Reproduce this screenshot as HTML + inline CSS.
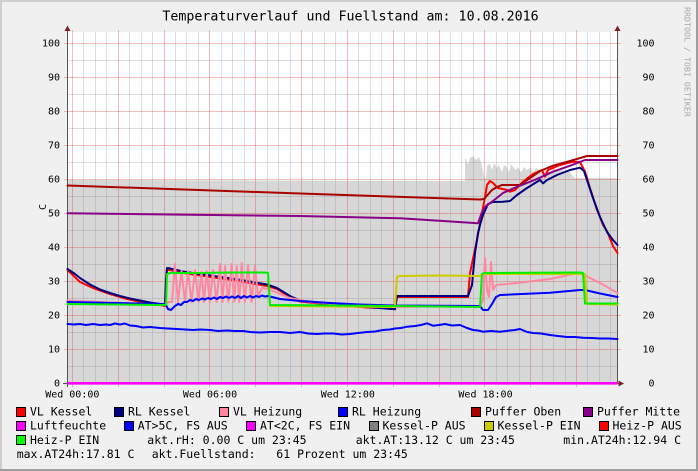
<!DOCTYPE html>
<html><head><meta charset="utf-8"><style>
html,body{margin:0;padding:0;background:#F0F0F0;}
svg{display:block;}
text{font-family:"DejaVu Sans Mono","Liberation Mono",monospace;}
</style></head><body>
<svg width="698" height="471" viewBox="0 0 698 471" xmlns="http://www.w3.org/2000/svg">
<rect x="0" y="0" width="698" height="471" fill="#F0F0F0"/>
<!-- frame -->
<rect x="0" y="0" width="698" height="2" fill="#CFCFCF"/>
<rect x="0" y="0" width="2" height="471" fill="#CFCFCF"/>
<rect x="0" y="469" width="698" height="2" fill="#9E9E9E"/>
<rect x="696" y="0" width="2" height="471" fill="#9E9E9E"/>

<!-- title -->
<text x="350.5" y="20.5" font-size="13.3" text-anchor="middle" fill="#000">Temperaturverlauf und Fuellstand am: 10.08.2016</text>
<text transform="translate(684.5,7) rotate(90)" font-size="8.3" fill="#A8A8A8">RRDTOOL / TOBI OETIKER</text>
<text transform="translate(46,207) rotate(-90)" font-size="10" text-anchor="middle" fill="#000">C</text>

<!-- canvas -->
<rect x="67.5" y="32" width="550" height="351" fill="#FFFFFF"/>

<!-- Fuellstand area -->
<path fill="#D7D7D7" d="M67.5,383 L67.5,180 L465,181 L465,157 L468,165 L470,158 L473,156 L476,160 L479,157 L481,163 L483,170 L484,178 L486,178 L487,166 L490,164 L492,170 L494,163 L497,168 L499,165 L502,172 L504,165 L507,167 L509,172 L511,164 L514,168 L516,170 L518,167 L521,172 L524,167 L527,170 L530,168 L533,172 L536,168 L540,170 L543,173 L546,168 L550,172 L554,168 L558,171 L562,170 L566,172 L569,171 L572,175 L575,178 L578,178 L617.5,178 L617.5,383 Z"/>

<!-- minor grid -->
<g stroke="#8F8F8F" stroke-opacity="0.3" stroke-width="1" fill="none">
<path d="M67.5,366.5H617.5 M67.5,332.5H617.5 M67.5,298.5H617.5 M67.5,264.5H617.5 M67.5,230.5H617.5 M67.5,196.5H617.5 M67.5,162.5H617.5 M67.5,128.5H617.5 M67.5,94.5H617.5 M67.5,60.5H617.5"/>
<path d="M83.5,32V383 M95.5,32V383 M106.5,32V383 M129.5,32V383 M141.5,32V383 M152.5,32V383 M175.5,32V383 M186.5,32V383 M198.5,32V383 M221.5,32V383 M232.5,32V383 M244.5,32V383 M267.5,32V383 M278.5,32V383 M290.5,32V383 M312.5,32V383 M324.5,32V383 M335.5,32V383 M358.5,32V383 M370.5,32V383 M381.5,32V383 M404.5,32V383 M416.5,32V383 M427.5,32V383 M450.5,32V383 M461.5,32V383 M473.5,32V383 M496.5,32V383 M507.5,32V383 M519.5,32V383 M542.5,32V383 M553.5,32V383 M565.5,32V383 M587.5,32V383 M599.5,32V383 M610.5,32V383"/>
</g>
<!-- major grid -->
<g stroke="#DE4F4F" stroke-opacity="0.38" stroke-width="1" fill="none">
<path d="M64,349.5H621 M64,315.5H621 M64,281.5H621 M64,247.5H621 M64,213.5H621 M64,179.5H621 M64,145.5H621 M64,111.5H621 M64,77.5H621 M64,43.5H621"/>
<path d="M72.5,30V387 M118.5,30V387 M164.5,30V387 M209.5,30V387 M255.5,30V387 M301.5,30V387 M347.5,30V387 M393.5,30V387 M439.5,30V387 M484.5,30V387 M530.5,30V387 M576.5,30V387"/>
</g>

<!-- axes -->
<g stroke="#555" stroke-width="1" fill="none">
<path d="M67.5,28V387 M617.5,28V383.5 M64,383.5H621"/>
<path d="M63,383.5H67.5"/>
</g>
<g fill="#801F1F">
<path d="M64.5,31 L67.5,25.5 L70.5,31 Z"/>
<path d="M614.5,31 L617.5,25.5 L620.5,31 Z"/>
<path d="M618.5,380.5 L624,383.5 L618.5,386.5 Z"/>
</g>

<!-- data lines -->
<g fill="none" stroke-width="2" stroke-linejoin="round" stroke-linecap="round">
<!-- VL Kessel -->
<polyline stroke="#FF0000" points="67.5,270 80,282 93,288 110,294 127,299 143,302.5 160,305 165,306 166,285 167,270 170,270 183,273 200,275.5 217,278 235,280.5 250,283 267,286 277,289 290,297 300,301.5 333,305 367,307.5 395,308.5 397,297 468,297 470,273 477,240 482,213 485,197 487,185 490,181 493,183 498,188 507,190 510,191.7 515,190 523,181.7 533,174 542,170 545,176.7 548,170 560,165 573,161.7 580,162 585,171.7 590,188 597,210 600,217 603,225 607,231 613,246 617.5,253"/>
<!-- RL Kessel -->
<polyline stroke="#000080" points="67.5,269 75,274 80,278 90,284.5 100,289.5 110,293 120,296 130,298.5 140,300.5 150,302.5 160,304 165,305 166,280 167,268 170,268.5 183,271.5 200,274 217,276.5 235,279 250,281.5 267,284.5 277,288 290,296 300,300.5 333,304 367,307 395,309.3 397,296 468,296 472,285 475,253 478,233 480,225 483,215 488,204 493,202 503,201.7 510,201 517,195 527,188 540,180 543,183.3 547,180 557,175 570,170 580,167.7 584,171 588,183 593,198 600,217 607,232 613,240 617.5,245"/>
<!-- VL Heizung -->
<polyline stroke="#FF88A0" points="67.5,300.5 100,302 165,305 166,303 169,302 172,302 175,264 178,302 181.5,271 185,302 188,271 191.5,302 195,270 198.5,302 201.5,272 204,302 206.7,271 209.8,302 213,270 216.5,302 220,264 222.5,302 225,266 228.3,302 231.7,264 234.2,302 236.7,266 239.2,302 241.7,263 244.8,302 248,265 251.5,302 255,266 258,296 262,288 268,289 275,292 290,298 310,302 350,305 395,307 480,306 483,300 485,258 487,290 489,297 491,262 493,290 496,285 517,283 550,279 577,273.3 582,274 590,278 600,283 617.5,293"/>
<!-- RL Heizung -->
<polyline stroke="#0000FF" points="67.5,302 165,304 166,305 168,309 171,310 175,306 178,304 181,305 184,302 187,302 190,300 193,301 196,299 199,300 202,298.5 205,299.5 208,298 211,299 214,297.5 217,299 220,297 223,298 226,296.5 229,298 232,296.5 235,298 238,296 241,298 244,296 247,297.5 250,296 253,297.5 256,296 259,297 262,295.5 265,296.5 268,296 280,299 300,301 330,303 360,304.5 395,305.5 480,306 483,310 488,310 492,304 496,297 500,295 550,292.7 580,290 585,290 600,293.5 617.5,297"/>
<!-- Puffer Oben -->
<polyline stroke="#AA0000" points="67.5,185.5 300,193.5 480,199.5 484,199 488,194.5 492,190 498,186.5 502,185 520,185 530,178 540,171 553,165.7 570,161 587,156 617.5,156"/>
<!-- Puffer Mitte -->
<polyline stroke="#880088" points="67.5,213.3 300,216 400,218.3 478,223.3 482,212 486,206 493,201 503,193 513,188.5 527,183 540,177.7 553,171.7 570,165.7 585,160 617.5,160"/>
<!-- AT -->
<polyline stroke="#0000FF" points="67.5,324 74,324.5 80,324 86,325 93,324 100,325 106,324.5 110,325 115,323.5 120,324.5 125,323.5 130,325.5 136,326 143,327.5 150,327 160,328 168,328.5 177,329 185,329.5 193,330 200,329.5 210,330 218,331 227,330.5 235,331 243,331 250,332 260,332.5 270,332 280,332 290,333 300,332 308,333.5 317,334 325,333.5 333,333.5 342,334.5 350,334 358,333 367,332 375,331.5 383,330 390,329.5 395,328.5 401,328 407,326.7 415,326 421,325 427,323.3 433,325.7 439,325 445,324 452,325.5 460,325 467,328 473,330 478,330.5 483,331.7 491,331 500,331.7 510,330.5 515,330 520,329 527,332 533,333 541,333.5 550,335 558,336 567,337 575,337 583,337.7 592,338 600,338.5 608,338.5 617.5,339"/>
<!-- Kessel-P EIN -->
<polyline stroke="#CCCC00" points="270,306 395,307 397,277 399,276 440,275.5 480,276 483,274 585,274 587,304 617.5,304.5"/>
<!-- Heiz-P EIN -->
<polyline stroke="#00EE00" points="67.5,304 166,305 167,274 170,273 200,273 230,272.5 265,272.5 268,273 270,305 395,306 480,307 482,274 484,273 580,272.5 583,273 585,303.5 617.5,303.5"/>
</g>
<!-- Luftfeuchte / AT<2C at zero -->
<path d="M67.5,383.3H617.5" stroke="#FF00FF" stroke-width="2.6" fill="none"/>

<!-- y labels -->
<g font-size="10" fill="#000" text-anchor="end">
<text x="60" y="46.6">100</text><text x="60" y="80.6">90</text><text x="60" y="114.6">80</text><text x="60" y="148.6">70</text><text x="60" y="182.6">60</text><text x="60" y="216.6">50</text><text x="60" y="250.6">40</text><text x="60" y="284.6">30</text><text x="60" y="318.6">20</text><text x="60" y="352.6">10</text><text x="60" y="386.6">0</text>
<text x="654.5" y="46.6">100</text><text x="654.5" y="80.6">90</text><text x="654.5" y="114.6">80</text><text x="654.5" y="148.6">70</text><text x="654.5" y="182.6">60</text><text x="654.5" y="216.6">50</text><text x="654.5" y="250.6">40</text><text x="654.5" y="284.6">30</text><text x="654.5" y="318.6">20</text><text x="654.5" y="352.6">10</text><text x="654.5" y="386.6">0</text>
</g>
<!-- x labels -->
<g font-size="10" fill="#000" text-anchor="middle">
<text x="72.3" y="397.5">Wed 00:00</text>
<text x="210" y="397.5">Wed 06:00</text>
<text x="347.8" y="397.5">Wed 12:00</text>
<text x="485.5" y="397.5">Wed 18:00</text>
</g>

<!-- legend boxes -->
<g stroke="#000" stroke-width="1">
<rect x="16.5" y="407.5" width="9" height="9" fill="#FF0000"/>
<rect x="114.5" y="407.5" width="9" height="9" fill="#000080"/>
<rect x="219.5" y="407.5" width="9" height="9" fill="#FF88A0"/>
<rect x="338.5" y="407.5" width="9" height="9" fill="#0000FF"/>
<rect x="471.5" y="407.5" width="9" height="9" fill="#AA0000"/>
<rect x="583.5" y="407.5" width="9" height="9" fill="#880088"/>

<rect x="16.5" y="421.5" width="9" height="9" fill="#FF00FF"/>
<rect x="124.5" y="421.5" width="9" height="9" fill="#0000FF"/>
<rect x="246.5" y="421.5" width="9" height="9" fill="#FF00FF"/>
<rect x="369.5" y="421.5" width="9" height="9" fill="#808080"/>
<rect x="484.5" y="421.5" width="9" height="9" fill="#CCCC00"/>
<rect x="599.5" y="421.5" width="9" height="9" fill="#FF0000"/>

<rect x="16.5" y="435.5" width="9" height="9" fill="#00FF00"/>
</g>
<!-- legend text -->
<g font-size="11.5" fill="#000">
<text x="30" y="415.6">VL Kessel</text>
<text x="128" y="415.6">RL Kessel</text>
<text x="233" y="415.6">VL Heizung</text>
<text x="352" y="415.6">RL Heizung</text>
<text x="485" y="415.6">Puffer Oben</text>
<text x="597" y="415.6">Puffer Mitte</text>

<text x="30" y="429.7">Luftfeuchte</text>
<text x="137.7" y="429.7">AT&gt;5C, FS AUS</text>
<text x="260" y="429.7">AT&lt;2C, FS EIN</text>
<text x="382.5" y="429.7">Kessel-P AUS</text>
<text x="497.5" y="429.7">Kessel-P EIN</text>
<text x="612.5" y="429.7">Heiz-P AUS</text>

<text x="30" y="443.8">Heiz-P EIN</text>
<text x="147.3" y="443.8">akt.rH: 0.00 C um 23:45</text>
<text x="355.7" y="443.8">akt.AT:13.12 C um 23:45</text>
<text x="563.3" y="443.8">min.AT24h:12.94 C</text>

<text x="16.7" y="457.9">max.AT24h:17.81 C</text>
<text x="151.7" y="457.9" xml:space="preserve">akt.Fuellstand:   61 Prozent um 23:45</text>
</g>
</svg>
</body></html>
